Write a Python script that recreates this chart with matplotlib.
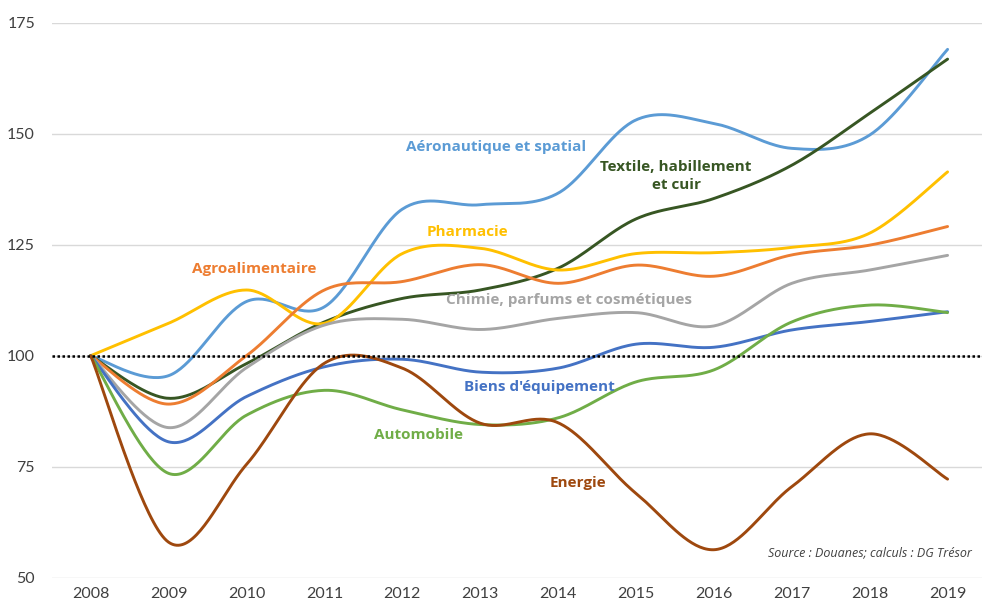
import numpy as np
import matplotlib
matplotlib.use("Agg")
import matplotlib.pyplot as plt

plt.rcParams['font.family'] = ['Lato', 'DejaVu Sans']

years = ["2008", "2009", "2010", "2011", "2012", "2013", "2014", "2015", "2016", "2017", "2018", "2019"]

aeronautique = [100, 95.5, 112.2, 111.0, 133.0, 134.0, 136.6, 153.1, 152.3, 146.7, 149.7, 169.0]
textile = [100, 90.4, 98.2, 107.6, 112.9, 114.8, 119.7, 130.8, 135.4, 142.9, 154.6, 166.8]
pharmacie = [100, 107.3, 114.8, 107.3, 123.0, 124.2, 119.3, 123.0, 123.2, 124.4, 127.6, 141.4]
agro = [100, 89.1, 100.0, 114.8, 116.7, 120.5, 116.3, 120.4, 117.9, 122.7, 124.9, 129.1]
chimie = [100, 83.8, 97.3, 106.9, 108.2, 105.9, 108.4, 109.7, 106.7, 116.3, 119.3, 122.6]
biens = [100, 80.6, 90.8, 97.5, 99.2, 96.3, 97.2, 102.6, 101.9, 105.8, 107.7, 109.9]
automobile = [100, 73.5, 86.6, 92.2, 87.8, 84.5, 86.0, 94.1, 96.8, 107.6, 111.4, 109.7]
energie = [100, 58.0, 75.5, 98.3, 97.2, 84.8, 84.9, 69.0, 56.3, 70.5, 82.4, 72.2]

series_names = ["Aéronautique et spatial", "Textile, habillement\net cuir", "Pharmacie",
                "Agroalimentaire", "Chimie, parfums et cosmétiques", "Biens d'équipement",
                "Automobile", "Energie"]
series_values = [aeronautique, textile, pharmacie, agro, chimie, biens, automobile, energie]
colors = ["#5B9BD5", "#375623", "#FFC000", "#ED7D31", "#A5A5A5", "#4472C4", "#70AD47", "#9E480E"]

# label centres in pixel coordinates (layout only)
label_pos = [(496, 147), (676, 176), (467, 232), (254, 269), (569, 300), (539, 387), (419, 435), (578, 483)]


def smooth(xs, ys, n=40):
    xs = np.asarray(xs, float)
    ys = np.asarray(ys, float)
    px = np.concatenate([[xs[0]], xs, [xs[-1]]])
    py = np.concatenate([[ys[0]], ys, [ys[-1]]])
    outx, outy = [], []
    t = np.linspace(0, 1, n)
    for i in range(1, len(px) - 2):
        p0 = np.array([px[i], py[i]])
        p3 = np.array([px[i + 1], py[i + 1]])
        c1 = p0 + (np.array([px[i + 1], py[i + 1]]) - np.array([px[i - 1], py[i - 1]])) / 6
        c2 = p3 - (np.array([px[i + 2], py[i + 2]]) - np.array([px[i], py[i]])) / 6
        b = ((1 - t) ** 3)[:, None] * p0 + (3 * (1 - t) ** 2 * t)[:, None] * c1 + \
            (3 * (1 - t) * t ** 2)[:, None] * c2 + (t ** 3)[:, None] * p3
        outx.extend(b[:, 0])
        outy.extend(b[:, 1])
    return np.array(outx), np.array(outy)


W, H = 982, 606
fig = plt.figure(figsize=(W / 100, H / 100), dpi=100)
x0, x1 = 51.7, 982
y0, y1 = 577.7, 22.7
ax = fig.add_axes([x0 / W, 1 - y0 / H, (x1 - x0) / W, (y0 - y1) / H])

idx = np.arange(len(years))
ax.set_xlim(-0.5, (x1 - 90.7) / 77.9)
ax.set_ylim(50, 175)

ax.set_yticks([50, 75, 100, 125, 150, 175])
ax.set_xticks(idx)
ax.set_xticklabels(years)
ax.grid(axis='y', color='#D9D9D9', lw=1)
ax.set_axisbelow(True)
for s in ax.spines.values():
    s.set_visible(False)
ax.tick_params(length=0, colors='#404040', labelsize=11.5)
ax.tick_params(axis='x', pad=7)
ax.tick_params(axis='y', pad=12)

for vals, col in zip(series_values, colors):
    sx, sy = smooth(idx, vals)
    ax.plot(sx, sy, color=col, lw=2.1, solid_capstyle='round')

ax.axhline(100, color='black', lw=1.8, ls=(0, (1, 1)), zorder=5)

for name, (px, py), col in zip(series_names, label_pos, colors):
    fig.text(px / W, 1 - py / H, name, color=col, fontsize=11, fontweight='bold',
             family=['Open Sans', 'DejaVu Sans'],
             ha='center', va='center', linespacing=1.35)

fig.text(972 / W, 1 - 553 / H, "Source : Douanes; calculs : DG Trésor", fontsize=9,
         family=['Open Sans', 'DejaVu Sans'],
         style='italic', color='#404040', ha='right', va='center')

fig.savefig("out.png", dpi=100)
